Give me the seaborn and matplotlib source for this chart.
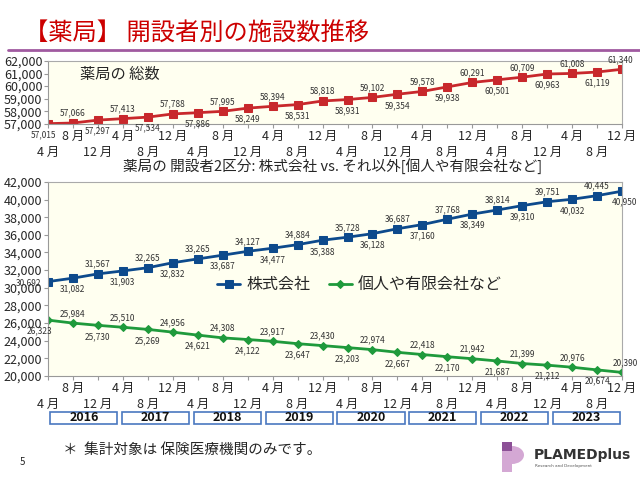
import matplotlib
matplotlib.use("Agg")
import matplotlib.pyplot as plt
import matplotlib.patches as mpatches
import numpy as np
import seaborn as sns

# データ (2016年4月〜2023年12月, 4ヶ月ごと)
months = ["4 月", "8 月", "12 月"] * 8
years = ["2016", "2017", "2018", "2019", "2020", "2021", "2022", "2023"]
total = [57015, 57066, 57297, 57413, 57534, 57788, 57886, 57995, 58249, 58394, 58531, 58818,
         58931, 59102, 59354, 59578, 59938, 60291, 60501, 60709, 60963, 61008, 61119, 61340]
kabushiki = [30692, 31082, 31567, 31903, 32265, 32832, 33265, 33687, 34127, 34477, 34884, 35388,
             35728, 36128, 36687, 37160, 37768, 38349, 38814, 39310, 39751, 40032, 40445, 40950]
kojin = [26323, 25984, 25730, 25510, 25269, 24956, 24621, 24308, 24122, 23917, 23647, 23430,
         23203, 22974, 22667, 22418, 22170, 21942, 21687, 21399, 21212, 20976, 20674, 20390]

sns.set_style("ticks")
plt.rcParams['font.family'] = ['Noto Sans CJK JP', 'DejaVu Sans']

x = np.arange(len(months))
bg = "#fffff0"
red = "#c8282c"
blue = "#0d4a8c"
green = "#1f9a3c"

fig = plt.figure(figsize=(6.4, 4.8), dpi=100)

# タイトル
fig.text(0.038, 0.93, "【薬局】 開設者別の施設数推移", color="#cc0000", fontsize=17.5,
         ha="left", va="center")
fig.add_artist(plt.Line2D([0.012, 1.0], [0.896, 0.896], color="#a05aa0", lw=2))


def style_axes(ax, ylo, yhi, step):
    ax.set_facecolor(bg)
    ax.set_xlim(0, len(x) - 1)
    ax.set_ylim(ylo, yhi)
    ax.set_yticks(np.arange(ylo, yhi + 1, step))
    ax.set_yticklabels([f"{v:,}" for v in np.arange(ylo, yhi + 1, step)], fontsize=9)
    ax.set_xticks(x)
    ax.set_xticklabels(months, fontsize=9)
    ax.tick_params(axis="x", length=3, color="#999999")
    ax.tick_params(axis="y", length=3, color="#999999", pad=1)
    # 4月/12月/8月... を2段に交互配置
    for i, t in enumerate(ax.xaxis.get_major_ticks()):
        t.set_pad(13 if i % 2 == 0 else 1.5)
    for s in ["top", "right"]:
        ax.spines[s].set_visible(True)
        ax.spines[s].set_color("#aaaaaa")
    for s in ["left", "bottom"]:
        ax.spines[s].set_color("#999999")
    ax.set_xlabel("")
    ax.set_ylabel("")


def add_labels(ax, vals, odd_up, first_off, last_off):
    for i, v in enumerate(vals):
        if i == 0:
            off = first_off
        elif i == len(vals) - 1:
            off = last_off
        else:
            up = (i % 2 == 1) == odd_up
            off = (0, 7) if up else (0, -8)
        ax.annotate(f"{v:,}", (i, v), xytext=off, textcoords="offset points",
                    ha="center", va="center", fontsize=6, color="#333333",
                    annotation_clip=False)


# 上段: 薬局の総数
ax1 = fig.add_axes([0.075, 0.742, 0.897, 0.131])
sns.lineplot(x=x, y=total, ax=ax1, color=red, marker="s", markersize=6,
             markeredgecolor=red, lw=2)
style_axes(ax1, 57000, 62000, 1000)
ax1.text(0.055, 0.78, "薬局の 総数", transform=ax1.transAxes, fontsize=11, va="center")
add_labels(ax1, total, True, (-3, -8), (-1, 7))

# 下段: 株式会社 vs それ以外
fig.text(0.52, 0.655, "薬局の 開設者2区分: 株式会社 vs. それ以外[個人や有限会社など]",
         fontsize=10.5, ha="center", va="center")
ax2 = fig.add_axes([0.075, 0.217, 0.897, 0.404])
sns.lineplot(x=x, y=kabushiki, ax=ax2, color=blue, marker="s", markersize=6,
             markeredgecolor=blue, lw=2, label="株式会社")
sns.lineplot(x=x, y=kojin, ax=ax2, color=green, marker="D", markersize=4.5,
             markeredgecolor=green, lw=2, label="個人や有限会社など")
style_axes(ax2, 20000, 42000, 2000)
add_labels(ax2, kabushiki, False, (-14, -1), (2, -8))
add_labels(ax2, kojin, True, (-6, -8), (2, 7))
ax2.legend(loc="center", bbox_to_anchor=(0.543, 0.47), ncol=2, frameon=False,
           fontsize=11.5, handlelength=1.4, columnspacing=1.2, handletextpad=0.4)

# 年のボックス
for i, yr in enumerate(years):
    w = 1 / 8
    rect = mpatches.Rectangle((i * w + 0.004, -0.247), w - 0.008, 0.062,
                              transform=ax2.transAxes, clip_on=False,
                              facecolor="white", edgecolor="#4a78c0", lw=1.2)
    ax2.add_patch(rect)
    ax2.text(i * w + w / 2, -0.216, yr, transform=ax2.transAxes, ha="center",
             va="center", fontsize=9, fontweight="bold", color="#111111")

# 注記
fig.text(0.098, 0.062, "＊  集計対象は 保険医療機関のみです。", fontsize=10.5, va="center")
fig.text(0.03, 0.037, "5", fontsize=7, va="center")

# ロゴ
fig.add_artist(mpatches.Rectangle((502 / 640, 1 - 472 / 480), 10 / 640, 30 / 480,
                                  transform=fig.transFigure, color="#d4a8d4", lw=0))
fig.add_artist(mpatches.Wedge((512 / 640, 1 - 455 / 480), 12 / 640, -90, 90,
                              transform=fig.transFigure, color="#d4a8d4", lw=0))
fig.add_artist(mpatches.Rectangle((502 / 640, 1 - 451 / 480), 10 / 640, 9 / 480,
                                  transform=fig.transFigure, color="#8c5096", lw=0))
fig.text(534 / 640, 1 - 455 / 480, "PLAMEDplus", fontsize=10, fontweight="bold",
         color="#333333", va="center", family="DejaVu Sans")
fig.text(535 / 640, 1 - 466 / 480, "Research and Development", fontsize=3,
         color="#555555", va="center", family="DejaVu Sans")

fig.savefig("out.png", dpi=100, facecolor="white")
